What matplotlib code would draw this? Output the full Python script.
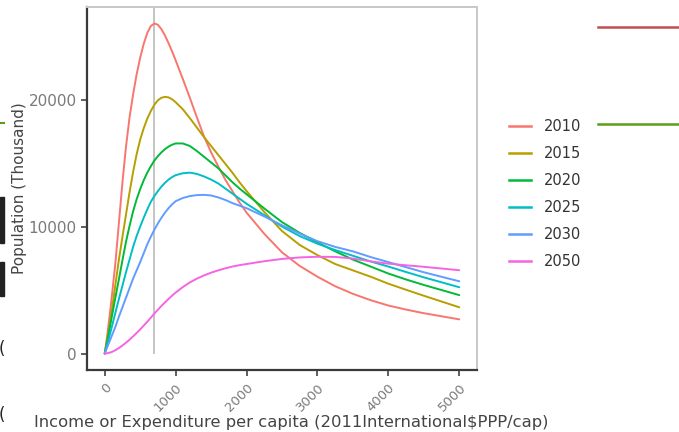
import matplotlib
matplotlib.use('Agg')
import matplotlib.pyplot as plt
from matplotlib.lines import Line2D
from matplotlib.patches import Rectangle

plt.rcParams['font.family'] = ['DejaVu Sans']

# Income grid (2011 international $ PPP per capita)
income = [0, 25, 50, 75, 100,
          150, 200, 250, 300, 350, 400, 450, 500, 550, 600, 650, 700, 750,
          800, 850, 900, 950, 1000,
          1100, 1200, 1300, 1400, 1500, 1600, 1700, 1800, 1900, 2000,
          2250, 2500, 2750, 3000, 3250, 3500, 3750, 4000, 4250, 4500,
          5000]

# Population at each income level (thousand)
pop_2010 = [0, 1000, 2100, 3250, 4500,
            7100, 10300, 13500, 16300, 18600, 20400, 22000, 23300, 24400,
            25250, 25800, 26000, 25900, 25550, 25050, 24450, 23800, 23100,
            21650, 20150, 18600, 17100, 15850, 14750, 13700, 12800, 11900, 11100,
            9430, 7970, 6900, 6050, 5300, 4700, 4200, 3780, 3460, 3175,
            2690]
pop_2015 = [0, 780, 1600, 2480, 3400,
            5400, 7400, 9200, 10950, 12700, 14300, 15700, 16850, 17750,
            18500, 19100, 19600, 19950, 20150, 20220, 20180, 20030, 19800,
            19250, 18550, 17800, 17050, 16350, 15650, 14950, 14250, 13500, 12800,
            11150, 9650, 8550, 7750, 7050, 6550, 6050, 5500, 5020, 4550,
            3640]
pop_2020 = [0, 700, 1400, 2150, 2900,
            4400, 5850, 7350, 8800, 10050, 11200, 12150, 12950, 13650,
            14250, 14750, 15200, 15550, 15850, 16100, 16300, 16450, 16550,
            16550, 16350, 15950, 15500, 15050, 14600, 14050, 13500, 13000, 12550,
            11430, 10350, 9500, 8750, 8050, 7400, 6850, 6300, 5830, 5400,
            4600]
pop_2025 = [0, 500, 1000, 1550, 2100,
            3200, 4300, 5350, 6400, 7400, 8400, 9250, 10000, 10700,
            11350, 11950, 12400, 12800, 13150, 13450, 13700, 13900, 14050,
            14200, 14250, 14150, 13950, 13700, 13400, 13000, 12600, 12200, 11800,
            10900, 10000, 9250, 8650, 8150, 7700, 7250, 6850, 6420, 6000,
            5220]
pop_2030 = [0, 350, 700, 1050, 1400,
            2100, 2900, 3650, 4400, 5150, 5900, 6550, 7200, 7900,
            8600, 9200, 9750, 10250, 10700, 11100, 11450, 11750, 12000,
            12250, 12400, 12480, 12500, 12450, 12300, 12100, 11850, 11650, 11450,
            10800, 10100, 9450, 8850, 8400, 8050, 7600, 7200, 6800, 6400,
            5690]
pop_2050 = [0, 10, 40, 75, 120,
            260, 430, 630, 850, 1090, 1350, 1620, 1900, 2200,
            2500, 2820, 3150, 3450, 3750, 4030, 4300, 4560, 4800,
            5230, 5600, 5900, 6150, 6370, 6550, 6710, 6850, 6960, 7050,
            7270, 7450, 7570, 7620, 7610, 7480, 7260, 7080, 6950, 6830,
            6560]

years = ['2010', '2015', '2020', '2025', '2030', '2050']
series = [pop_2010, pop_2015, pop_2020, pop_2025, pop_2030, pop_2050]
colors = ['#F8766D', '#B79F00', '#00BA38', '#00BFC4', '#619CFF', '#F564E3']

poverty_line = 690
x_ticks = [0, 1000, 2000, 3000, 4000, 5000]
y_ticks = [0, 10000, 20000]

fig = plt.figure(figsize=(6.79, 4.32), dpi=100)
ax = fig.add_axes([87 / 679, 62 / 432, 390 / 679, 363 / 432])

ymax = max(max(s) for s in series)
pad_y = ymax * 0.05
ax.set_xlim(-250, 5250)
ax.set_ylim(-pad_y, ymax + pad_y)

ax.vlines(poverty_line, 0, ymax + 2 * pad_y, color='#c4c4c4', lw=1.4, zorder=1)

for yr, s, c in zip(years, series, colors):
    ax.plot(income, s, color=c, lw=1.4, label=yr, zorder=2,
            solid_capstyle='round', solid_joinstyle='round')

ax.set_xticks(x_ticks)
ax.set_xticklabels([str(t) for t in x_ticks], rotation=45, ha='right',
                   va='top', rotation_mode='anchor')
ax.set_yticks(y_ticks)
ax.tick_params(axis='both', colors='#333333', length=4, width=1.1,
               labelcolor='#7a7a7a')
ax.tick_params(axis='y', labelsize=11)
ax.tick_params(axis='x', labelsize=9.5, pad=4)

for side in ['left', 'bottom']:
    ax.spines[side].set_color('#3a3a3a')
    ax.spines[side].set_linewidth(1.6)
for side in ['top', 'right']:
    ax.spines[side].set_color('#c8c8c8')
    ax.spines[side].set_linewidth(1.4)

ax.set_xlabel('Income or Expenditure per capita (2011International$PPP/cap)',
              fontsize=11.8, color='#444444')
ax.xaxis.set_label_coords(0.523, -0.158)
ax.xaxis.label.set_va('baseline')
ax.set_ylabel('Population (Thousand)', fontsize=11, color='#444444')
ax.yaxis.set_label_coords(-0.172, 0.5)
ax.yaxis.label.set_va('center')

handles = [Line2D([], [], color=c, lw=1.8) for c in colors]
fig.legend(handles, years, loc='upper left',
           bbox_to_anchor=(496 / 679, 1 - 106 / 432),
           frameon=False, fontsize=10.5, handlelength=1.5, handletextpad=0.9,
           labelspacing=0.82, labelcolor='#333333')

# slide edge marks around the chart
fig.add_artist(Line2D([598 / 679, 1], [1 - 27 / 432] * 2, color='#c0504d', lw=1.8))
fig.add_artist(Line2D([598 / 679, 1], [1 - 124 / 432] * 2, color='#5a9e1a', lw=1.8))
fig.add_artist(Line2D([0, 4 / 679], [1 - 123 / 432] * 2, color='#5a9e1a', lw=1.5))
for y0, y1 in [(197, 243), (262, 296)]:
    fig.add_artist(Rectangle((0, 1 - y1 / 432), 4 / 679, (y1 - y0) / 432,
                             color='#222222', transform=fig.transFigure))
for yc in [349, 415]:
    fig.text(-1 / 679, 1 - yc / 432, '(', fontsize=12, color='#222222',
             va='center', ha='left')

fig.savefig('out.png', dpi=100)
plt.close(fig)
